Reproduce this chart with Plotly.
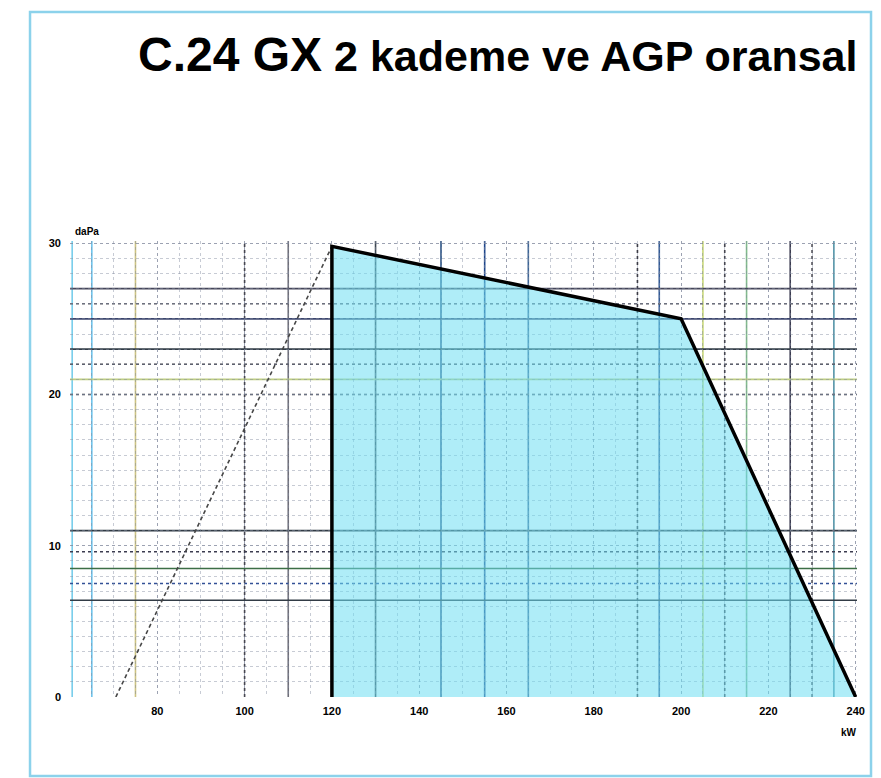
import plotly.graph_objects as go

# ---- data ----
envelope_kw = [120, 120, 200, 240]
envelope_dapa = [0, 29.8, 25.0, 0]
start_kw = [70.5, 120]
start_dapa = [0, 29.8]
x_ticks = [80, 100, 120, 140, 160, 180, 200, 220, 240]
y_ticks = [0, 10, 20, 30]
title_main = "C.24 GX"
title_sub = "2 kademe ve AGP oransal"
y_unit = "daPa"
x_unit = "kW"

# accent grid lines of the printed graph paper (value, colour, dash)
accent_x = [
    (60.5, "rgb(120,205,235)", "solid"), (65, "rgb(110,195,235)", "solid"),
    (75, "rgb(205,195,130)", "solid"), (100, "rgb(70,70,80)", "dot"),
    (110, "rgb(110,110,120)", "solid"), (130, "rgb(60,70,80)", "solid"),
    (145, "rgb(40,80,130)", "solid"), (155, "rgb(30,70,140)", "solid"),
    (165, "rgb(60,100,150)", "solid"), (190, "rgb(60,60,70)", "dot"),
    (195, "rgb(50,90,150)", "solid"), (205, "rgb(200,215,120)", "solid"),
    (210, "rgb(70,70,80)", "dot"), (215, "rgb(130,190,140)", "solid"),
    (225, "rgb(60,60,80)", "solid"), (230, "rgb(80,80,90)", "dot"),
    (235, "rgb(80,150,170)", "solid"),
]
accent_y = [
    (27, "rgb(70,70,90)", "solid"), (26, "rgb(90,90,100)", "dot"),
    (25, "rgb(60,70,110)", "solid"), (23, "rgb(50,60,70)", "solid"),
    (22, "rgb(60,60,70)", "dot"), (21, "rgb(190,205,130)", "solid"),
    (20, "rgb(60,60,70)", "dot"), (11, "rgb(50,60,70)", "solid"),
    (9.6, "rgb(60,60,80)", "dot"), (8.5, "rgb(60,110,70)", "solid"),
    (7.5, "rgb(50,80,150)", "dot"), (6.4, "rgb(50,60,70)", "solid"),
]

fig = go.Figure()

# filled operating area
fig.add_trace(go.Scatter(
    x=envelope_kw, y=envelope_dapa, mode="lines", fill="toself",
    fillcolor="rgba(110,222,243,0.55)", line=dict(width=0),
    hoverinfo="skip", showlegend=False))
# start-up dashed line
fig.add_trace(go.Scatter(
    x=start_kw, y=start_dapa, mode="lines",
    line=dict(color="rgb(70,70,70)", width=1.6, dash="4px,3px"),
    showlegend=False))
# envelope outline
fig.add_trace(go.Scatter(
    x=envelope_kw, y=envelope_dapa, mode="lines",
    line=dict(color="black", width=3.5), showlegend=False))

shapes = []
for v, c, d in accent_x:
    shapes.append(dict(type="line", xref="x", yref="y domain", x0=v, x1=v, y0=0, y1=1,
                       line=dict(color=c, width=1.6, dash=d), layer="below"))
for v, c, d in accent_y:
    shapes.append(dict(type="line", xref="x domain", yref="y", x0=0, x1=1, y0=v, y1=v,
                       line=dict(color=c, width=1.6, dash=d), layer="below"))
# outer frame
shapes.append(dict(type="rect", xref="paper", yref="paper",
                   x0=-0.0508, x1=1.0178, y0=-0.173, y1=1.502,
                   line=dict(color="rgb(140,210,235)", width=2.5), layer="below"))

fig.update_layout(
    width=873, height=770,
    margin=dict(l=62, r=24, t=233, b=81),
    paper_bgcolor="white", plot_bgcolor="white",
    shapes=shapes,
    showlegend=False,
    font=dict(family="Liberation Sans, Arial, sans-serif", color="black"),
    annotations=[
        dict(xref="paper", yref="paper", x=1.003, y=1.41, xanchor="right", yanchor="middle",
             showarrow=False,
             text=f"<span style='font-size:48px'>{title_main}</span> {title_sub}",
             font=dict(size=43, weight="bold", color="black")),
        dict(xref="paper", yref="paper", x=0.0, y=1.005, xanchor="left", yanchor="bottom",
             showarrow=False, text=y_unit, xshift=3,
             font=dict(size=10, weight="bold", color="black")),
        dict(xref="paper", yref="paper", x=1.003, y=-0.062, xanchor="right", yanchor="top",
             showarrow=False, text=x_unit,
             font=dict(size=10, weight="bold", color="black")),
    ],
)

fig.update_xaxes(
    range=[60, 240.3], tickvals=x_ticks, ticktext=[str(t) for t in x_ticks],
    showline=False, zeroline=False, ticks="", ticklabelstandoff=6,
    tickfont=dict(size=11, weight="bold", color="black"),
    showgrid=True, gridcolor="rgba(120,130,150,0.55)", gridwidth=1, griddash="dot",
    minor=dict(dtick=5, tick0=60, showgrid=True, gridcolor="rgba(130,140,160,0.45)",
               gridwidth=1, griddash="dot"),
)
fig.update_yaxes(
    range=[0, 30.15], tickvals=y_ticks, ticktext=[str(t) for t in y_ticks],
    showline=False, zeroline=False, ticks="", ticklabelstandoff=8,
    tickfont=dict(size=11, weight="bold", color="black"),
    showgrid=True, gridcolor="rgba(120,130,150,0.55)", gridwidth=1, griddash="dot",
    minor=dict(dtick=1, tick0=0, showgrid=True, gridcolor="rgba(130,140,160,0.45)",
               gridwidth=1, griddash="dot"),
)

fig.write_html("out.html")
